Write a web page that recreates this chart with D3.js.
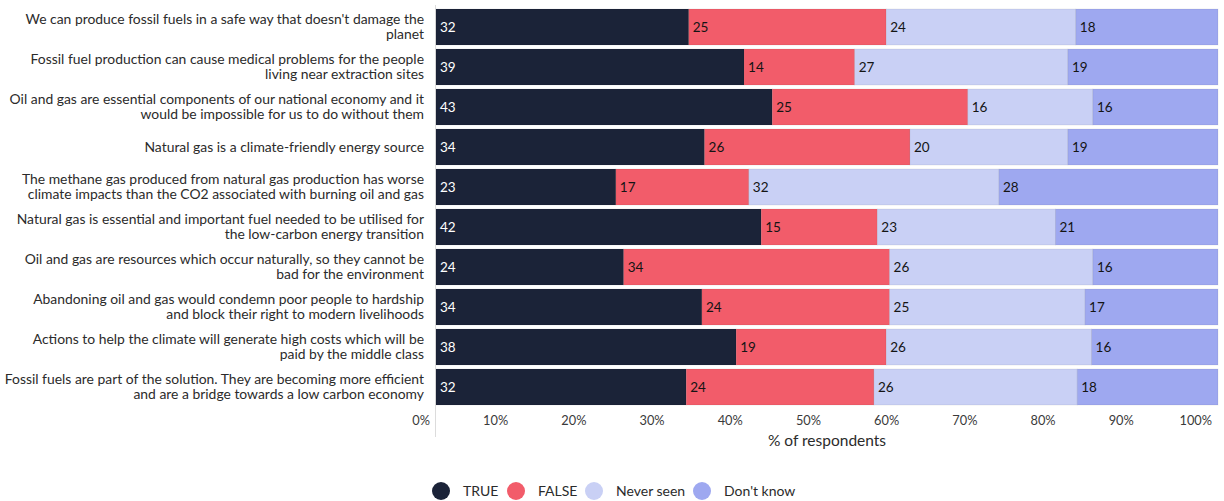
<!DOCTYPE html>
<html>
<head>
<meta charset="utf-8">
<script src="https://cdn.jsdelivr.net/npm/d3@7"></script>
<style>
  html, body { margin: 0; padding: 0; background: #fff; }
  svg { display: block; font-family: Lato, "Open Sans", sans-serif; }
</style>
</head>
<body>
<svg id="chart" width="1224" height="501"></svg>
<script>
// Survey statements (each label is split into its display lines)
const statements = [
  ["We can produce fossil fuels in a safe way that doesn't damage the", "planet"],
  ["Fossil fuel production can cause medical problems for the people", "living near extraction sites"],
  ["Oil and gas are essential components of our national economy and it", "would be impossible for us to do without them"],
  ["Natural gas is a climate-friendly energy source"],
  ["The methane gas produced from natural gas production has worse", "climate impacts than the CO2 associated with burning oil and gas"],
  ["Natural gas is essential and important fuel needed to be utilised for", "the low-carbon energy transition"],
  ["Oil and gas are resources which occur naturally, so they cannot be", "bad for the environment"],
  ["Abandoning oil and gas would condemn poor people to hardship", "and block their right to modern livelihoods"],
  ["Actions to help the climate will generate high costs which will be", "paid by the middle class"],
  ["Fossil fuels are part of the solution. They are becoming more efficient", "and are a bridge towards a low carbon economy"]
];

// Responses (% of respondents)
const seriesNames = ["TRUE", "FALSE", "Never seen", "Don't know"];
const trueVals     = [32, 39, 43, 34, 23, 42, 24, 34, 38, 32];
const falseVals    = [25, 14, 25, 26, 17, 15, 34, 24, 19, 24];
const neverSeen    = [24, 27, 16, 20, 32, 23, 26, 25, 26, 26];
const dontKnow     = [18, 19, 16, 19, 28, 21, 16, 17, 16, 18];
const tickLabels   = ["0%", "10%", "20%", "30%", "40%", "50%", "60%", "70%", "80%", "90%", "100%"];

const colors = ["#1b2338", "#f25c6a", "#c9d0f5", "#9ea8f0"];
const labelColors = ["#ffffff", "#141414", "#141414", "#141414"];

const rows = statements.map((s, i) => ({
  id: i,
  lines: s,
  "TRUE": trueVals[i],
  "FALSE": falseVals[i],
  "Never seen": neverSeen[i],
  "Don't know": dontKnow[i]
}));

const stacked = d3.stack().keys(seriesNames).offset(d3.stackOffsetExpand)(rows);

const svg = d3.select("#chart");
const left = 436, right = 1218;

const x = d3.scaleLinear().domain([0, 1]).range([left, right]);
const y = d3.scaleBand().domain(rows.map(d => d.id)).range([7, 407])
  .paddingInner(0.1).paddingOuter(0.05);
const color = d3.scaleOrdinal().domain(seriesNames).range(colors);

// Vertical baseline
svg.append("line")
  .attr("x1", left - 0.5).attr("x2", left - 0.5)
  .attr("y1", 5).attr("y2", 437)
  .attr("stroke", "#dcdcdc").attr("stroke-width", 1);

// Stacked bars
const groups = svg.append("g").selectAll("g")
  .data(stacked).join("g")
  .attr("fill", d => color(d.key));

groups.selectAll("rect")
  .data(d => d.map(p => ({ p, key: d.key })))
  .join("rect")
  .attr("x", d => x(d.p[0]))
  .attr("y", d => y(d.p.data.id))
  .attr("width", d => x(d.p[1]) - x(d.p[0]))
  .attr("height", y.bandwidth())
  .attr("stroke", "rgba(0,0,0,0.08)")
  .attr("stroke-width", 0.8);

// Value labels inside segments
groups.each(function(series, si) {
  d3.select(this).selectAll("text")
    .data(series)
    .join("text")
    .attr("x", d => x(d[0]) + 4)
    .attr("y", d => y(d.data.id) + y.bandwidth() / 2 + 5)
    .attr("fill", labelColors[si])
    .attr("font-size", 13.5)
    .text(d => d.data[series.key]);
});

// Category labels
const catG = svg.append("g");
rows.forEach(r => {
  const cy = y(r.id) + y.bandwidth() / 2;
  const lh = 15.5;
  const n = r.lines.length;
  const t = catG.append("text")
    .attr("text-anchor", "end")
    .attr("fill", "#2b2b2b")
    .attr("font-size", 13.9);
  r.lines.forEach((ln, k) => {
    t.append("tspan")
      .attr("x", left - 12)
      .attr("y", cy + (k - (n - 1) / 2) * lh + 4.5)
      .text(ln);
  });
});

// X axis tick labels
const xAxis = d3.axisBottom(x)
  .tickValues(d3.range(0, 1.0001, 0.1))
  .tickFormat((d, i) => tickLabels[i])
  .tickSize(0);
const ax = svg.append("g").attr("transform", "translate(0,412)").call(xAxis);
ax.select(".domain").remove();
ax.selectAll("text")
  .attr("text-anchor", "end")
  .attr("dx", -6.5)
  .attr("dy", 0)
  .attr("y", 13)
  .attr("fill", "#3a3a3a")
  .attr("font-size", 12.8)
  .attr("font-family", "Lato, sans-serif");

// Axis title
svg.append("text")
  .attr("x", (left + right) / 2)
  .attr("y", 446)
  .attr("text-anchor", "middle")
  .attr("fill", "#2b2b2b")
  .attr("font-size", 15.5)
  .text("% of respondents");

// Legend
const legendX = [441, 516, 594, 702];
const lg = svg.append("g").selectAll("g")
  .data(seriesNames).join("g")
  .attr("transform", (d, i) => `translate(${legendX[i]},491)`);
lg.append("circle").attr("r", 9).attr("fill", d => color(d));
lg.append("text")
  .attr("x", 22).attr("y", 5)
  .attr("fill", "#2b2b2b")
  .attr("font-size", 14)
  .text(d => d);
</script>
</body>
</html>
